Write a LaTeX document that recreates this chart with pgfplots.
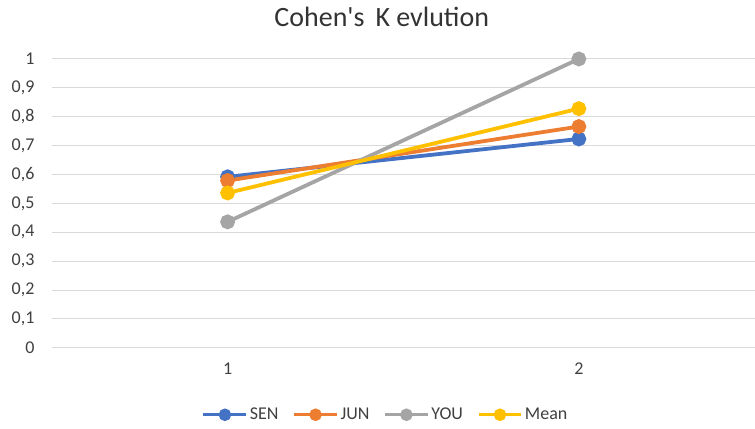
\documentclass[border=0pt]{standalone}
\usepackage{fontspec}
\setmainfont{Carlito}
\usepackage{pgfplots}
\pgfplotsset{compat=1.18}
\definecolor{SenBlue}{HTML}{4472C4}
\definecolor{JunOrange}{HTML}{ED7D31}
\definecolor{YouGray}{HTML}{A5A5A5}
\definecolor{MeanGold}{HTML}{FFC000}
\definecolor{GridGray}{HTML}{D9D9D9}
\definecolor{TextGray}{HTML}{404040}

\begin{document}
\begin{tikzpicture}
\path (0pt,0pt) rectangle (755pt,429pt);
\node[font=\fontsize{28}{32}\selectfont, text=black!80] at (382pt,412pt) {Cohen\textquotesingle s\, K evlution};
\begin{axis}[
    at={(52pt,81pt)}, anchor=south west,
    scale only axis,
    width=703pt, height=289pt,
    xmin=0.5, xmax=2.5,
    ymin=0, ymax=1,
    xtick={1,2},
    ytick={0,0.1,...,1},
    ymajorgrids=true,
    grid style={draw=GridGray, line width=1pt},
    axis line style={draw=none},
    major tick length=0pt,
    tick label style={font=\fontsize{18}{21}\selectfont, text=TextGray},
    /pgf/number format/assume math mode=true,
    /pgf/number format/use comma,
    yticklabel style={/pgf/number format/fixed, /pgf/number format/precision=1, xshift=-14pt},
    xticklabel style={yshift=-12pt},
    every axis plot/.append style={line width=3.8pt, mark=*, mark size=5.5pt},
    legend style={at={(0.475,-0.232)}, anchor=center, legend columns=4, draw=none,
        font=\fontsize{18}{21}\selectfont, text=TextGray, inner sep=0pt,
        /tikz/every odd column/.append style={column sep=0pt},
        /tikz/every even column/.append style={column sep=12pt}},
    legend image code/.code={
        \draw[#1, mark=none, line width=3pt] (0pt,0pt) -- (43pt,0pt);
        \draw[#1, only marks, mark size=4.3pt] plot coordinates {(21.5pt,0pt)};
    },
    clip=false,
]
\addplot[color=SenBlue] coordinates {(1,0.592) (2,0.723)};
\addplot[color=JunOrange] coordinates {(1,0.579) (2,0.766)};
\addplot[color=YouGray] coordinates {(1,0.436) (2,1.0)};
\addplot[color=MeanGold] coordinates {(1,0.536) (2,0.828)};
\legend{SEN,JUN,YOU,Mean}
\end{axis}
\end{tikzpicture}
\end{document}
